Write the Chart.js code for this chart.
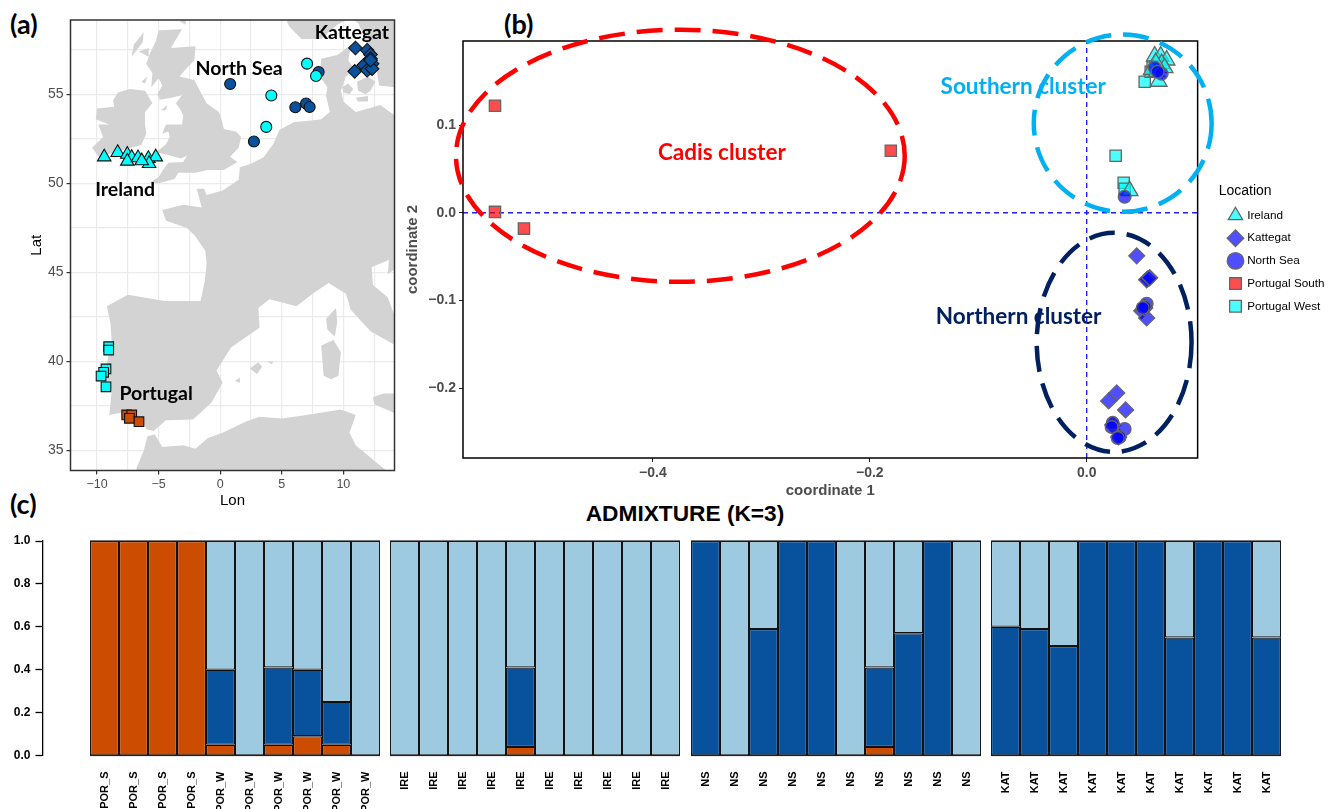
<!DOCTYPE html>
<html>
<head>
<meta charset="utf-8">
<title>Location map, MDS and ADMIXTURE</title>
<script src="https://cdn.jsdelivr.net/npm/chart.js@4"></script>
<style>
	html, body { margin: 0; padding: 0; background: #fff; width: 1340px; height: 809px; overflow: hidden; }
	canvas { position: absolute; display: block; }
	.tag { position: absolute; font: bold 27px Lato, sans-serif; color: #000; line-height: 28px; }
	#admix-title { position: absolute; left: 485px; width: 400px; top: 500px; text-align: center; font: bold 22.7px "Liberation Sans", sans-serif; color: #000; line-height: 26px; }
</style>
</head>
<body>
<div class="tag" style="left:10px;top:10px">(a)</div>
<div class="tag" style="left:504px;top:10px">(b)</div>
<div class="tag" style="left:10px;top:490px">(c)</div>
<div id="admix-title">ADMIXTURE (K=3)</div>
<canvas id="map" width="410" height="510" style="left:0;top:0"></canvas>
<canvas id="mds" width="940" height="500" style="left:400px;top:0"></canvas>
<canvas id="axis-c" width="50" height="809" style="left:0;top:0"></canvas>
<canvas id="bars-0" width="290" height="809" style="left:90px;top:0"></canvas>
<canvas id="bars-1" width="290" height="809" style="left:390px;top:0"></canvas>
<canvas id="bars-2" width="290" height="809" style="left:691px;top:0"></canvas>
<canvas id="bars-3" width="290" height="809" style="left:991px;top:0"></canvas>
<script>
// ---- panel (a) sampling sites, [lon, lat]
var mapIreland = [[-9.41,51.48],[-8.32,51.73],[-7.54,51.63],[-7.18,51.45],[-7.54,51.24],[-6.67,51.43],[-5.83,51.39],[-5.23,51.48],[-5.77,51.11],[-6.37,51.26]];
var mapKattegat = [[10.98,57.6],[10.92,56.29],[11.93,57.47],[12.2,57.23],[12.2,57.0],[12.33,56.72],[11.65,56.63],[11.93,56.35],[12.33,56.44],[12.2,56.91]];
var mapNorthSeaDark = [[0.81,55.58],[7.99,56.25],[6.1,54.27],[6.97,54.48],[7.26,54.29],[2.74,52.35]];
var mapNorthSeaLight = [[7.05,56.72],[7.78,56.03],[4.15,54.93],[3.74,53.17]];
var mapPortugalWest = [[-9.05,40.83],[-9.05,40.64],[-9.27,39.58],[-9.46,39.39],[-9.67,39.18],[-9.27,38.58]];
var mapPortugalSouth = [[-7.59,37.0],[-7.18,37.0],[-7.37,36.81],[-6.59,36.62]];

// coastlines, [lon, lat]
var britain = [[-5.7,50.05],[-5.0,50.35],[-4.5,50.9],[-4.2,51.15],[-3.0,51.2],[-2.7,51.55],[-3.2,51.4],[-4.3,51.6],[-5.2,51.75],[-4.4,52.2],[-4.1,52.6],[-4.2,52.9],[-4.7,52.8],[-4.4,53.3],[-3.1,53.3],[-3.0,53.8],[-3.2,54.1],[-3.6,54.5],[-3.1,54.95],[-4.0,54.8],[-4.9,54.7],[-5.1,55.0],[-4.7,55.5],[-5.0,55.9],[-5.6,55.4],[-5.5,56.2],[-6.0,56.7],[-5.7,57.3],[-5.2,58.0],[-5.0,58.6],[-3.1,58.65],[-4.0,57.6],[-2.0,57.7],[-2.1,56.9],[-2.8,56.4],[-3.3,56.0],[-2.1,55.8],[-1.5,55.0],[-1.1,54.5],[-0.1,54.0],[0.1,53.6],[0.3,53.05],[1.3,52.9],[1.7,52.6],[1.5,52.0],[0.8,51.5],[1.4,51.2],[0.3,50.75],[-1.0,50.75],[-2.0,50.6],[-3.4,50.6],[-3.7,50.25],[-5.0,50.0]];
var irelandLand = [[-6.4,52.15],[-8.3,51.8],[-9.8,51.45],[-10.4,52.0],[-9.5,52.6],[-9.9,53.3],[-9.0,53.3],[-10.1,53.6],[-10.0,54.2],[-8.6,54.3],[-8.7,54.65],[-8.3,55.1],[-7.3,55.3],[-6.1,55.2],[-5.5,54.5],[-6.1,54.0],[-6.1,53.3],[-6.0,52.8]];
var continent = [[10.6,57.75],[9.5,57.2],[8.2,57.0],[8.1,56.0],[8.7,55.4],[8.6,54.9],[8.9,54.0],[8.2,53.6],[7.0,53.5],[6.0,53.45],[4.8,53.0],[4.3,52.2],[3.5,51.45],[2.5,51.1],[1.6,50.9],[1.5,50.2],[0.2,49.6],[-1.1,49.35],[-1.3,49.7],[-1.9,49.7],[-1.5,48.65],[-3.0,48.8],[-4.7,48.5],[-4.4,47.9],[-2.7,47.5],[-2.1,47.1],[-1.2,46.2],[-1.1,45.5],[-1.25,44.5],[-1.6,43.4],[-3.0,43.4],[-4.5,43.4],[-7.5,43.75],[-9.2,43.1],[-8.9,42.1],[-8.8,41.0],[-9.4,39.4],[-9.5,38.7],[-8.8,38.4],[-9.0,37.0],[-7.4,37.2],[-6.4,36.8],[-6.0,36.2],[-5.4,36.1],[-4.4,36.7],[-2.2,36.75],[-0.7,37.7],[0.2,38.8],[-0.3,39.5],[0.9,40.8],[3.2,41.9],[3.1,43.0],[4.0,43.5],[6.2,43.1],[7.5,43.8],[8.8,44.4],[10.2,43.8],[10.6,42.9],[12.2,41.7],[14,41],[15,40.5],[15,42],[14.2,42.5],[13.6,43.6],[12.4,44.3],[12.3,45.3],[13.7,45.7],[13.6,44.9],[14.2,45.2],[15,44.9],[15,54],[14,53.9],[13,54.4],[12,54.2],[11,54],[10,54.6],[9.8,55.2],[10.2,56],[10.9,56.4],[10.4,56.9]];
var scandinavia = [[5.0,60],[5.3,59.3],[5.6,58.8],[6.6,58.1],[8.2,58.1],[9.5,58.9],[10.6,59.3],[11.2,59],[11.8,58],[12,57.4],[12.7,56.4],[12.9,55.5],[14.2,55.4],[15,56.1],[15,60]];
var africa = [[-6.8,33],[-6.8,34],[-6.2,35],[-5.9,35.8],[-5.3,35.9],[-4.7,35.2],[-3,35.3],[-2,35.1],[-1,35.7],[0.2,36],[2,36.6],[3.2,36.9],[5,36.8],[7,37],[9.8,37.3],[11,37],[10.5,36],[11,35.3],[15,33]];
var sicily = [[12.4,38],[13.3,38.2],[15,38.2],[15,36.7],[14.5,37],[12.5,37.6]];
var sardinia = [[8.2,40.9],[9.2,41.2],[9.8,40.5],[9.6,39.2],[9.0,39.0],[8.4,39.2]];
var corsica = [[9.4,43],[9.5,42.2],[9.3,41.4],[8.7,41.8],[8.6,42.4]];
var mallorca = [[2.4,39.6],[3.1,39.95],[3.4,39.7],[3,39.3]];
var menorca = [[3.8,40],[4.3,40],[4.2,39.85]];
var ibiza = [[1.2,38.9],[1.6,39.1],[1.6,38.8]];
var zealand = [[11.1,55.7],[12,56],[12.6,55.7],[12.2,55.2],[11.8,55],[11.2,55.2]];
var funen = [[9.9,55.4],[10.4,55.6],[10.8,55.3],[10.5,55],[10,55.1]];
var lolland = [[11,54.8],[12,54.9],[12,54.6],[11.2,54.6]];
var lewis = [[-7,57.8],[-6.2,58.5],[-6.3,57.9],[-7.2,57.1]];
var skye = [[-6.6,57.4],[-5.8,57.6],[-5.8,57.1]];
var islay = [[-6.4,55.7],[-5.9,56],[-6.1,55.6]];
var man = [[-4.8,54.1],[-4.3,54.4],[-4.4,54.1]];
var orkney = [[-3.3,59.1],[-2.8,59.2],[-2.8,58.9]];
var landParts = [britain, irelandLand, continent, scandinavia, africa, sicily, sardinia, corsica, mallorca, menorca, ibiza, zealand, funen, lolland, lewis, skye, islay, man, orkney];

var mapNotes = ['Kattegat', 'North Sea', 'Ireland', 'Portugal'];
var mapNotesLon = [10.69, 1.54, -7.72, -5.2];
var mapNotesLat = [58.48, 56.46, 49.62, 38.17];

// ---- panel (b) coordinates, [coord1, coord2]
var mdsLegend = ['Ireland', 'Kattegat', 'North Sea', 'Portugal South', 'Portugal West'];
var mdsIreland = [[0.0627,0.1785],[0.0682,0.1785],[0.0737,0.1739],[0.0691,0.1699],[0.0664,0.1497],[0.0396,0.0251],[0.0719,0.1653],[0.0636,0.1711],[0.0599,0.1631],[0.0645,0.1608]];
var mdsKattegat = [[0.0461,-0.0491],[0.0562,-0.0753],[0.0553,-0.0764],[0.0581,-0.0741],[0.0507,-0.1118],[0.0553,-0.1198],[0.0535,-0.1084],[0.0277,-0.2053],[0.0203,-0.2144],[0.0359,-0.2247],[0.0240,-0.2418],[0.0295,-0.2555]];
var mdsNorthSea = [[0.0627,0.1654],[0.0691,0.1585],[0.0654,0.1608],[0.0350,0.0182],[0.0240,-0.2395],[0.0230,-0.2441],[0.0350,-0.2464],[0.0304,-0.2555],[0.0286,-0.2566],[0.0553,-0.1038],[0.0535,-0.1072],[0.0516,-0.1084]];
var mdsPortugalSouth = [[-0.5456,0.122],[-0.5456,0.001],[-0.5189,-0.018],[-0.1806,0.0707]];
var mdsPortugalWest = [[0.0267,0.0650],[0.0341,0.0342],[0.0350,0.0274],[0.0535,0.1494],[0.0590,0.1608],[0.0608,0.1654]];
var mdsHline = [[-0.5751,0],[0.1023,0]];
var mdsVline = [[0,-0.2795],[0,0.1958]];

var clusterNames = ['Cadis cluster', 'Southern cluster', 'Northern cluster'];
var clusterNoteX = [-0.3364, -0.0585, -0.0627];
var clusterNoteY = [0.0684, 0.1437, -0.1186];
var clusterColors = ['#ff0000', '#00b0f0', '#002060'];
var ellipseX = [-0.3747, 0.0332, 0.0253];
var ellipseY = [0.065, 0.1021, -0.1477];
var ellipseRx = [0.2069, 0.082, 0.0714];
var ellipseRy = [0.1437, 0.101, 0.1249];

// ---- panel (c)
var groupLabels = ['POR', 'IRE', 'NS', 'KAT'];
var porLabels = ['POR_S','POR_S','POR_S','POR_S','POR_W','POR_W','POR_W','POR_W','POR_W','POR_W'];
var ireLabels = ['IRE','IRE','IRE','IRE','IRE','IRE','IRE','IRE','IRE','IRE'];
var nsLabels = ['NS','NS','NS','NS','NS','NS','NS','NS','NS','NS'];
var katLabels = ['KAT','KAT','KAT','KAT','KAT','KAT','KAT','KAT','KAT','KAT'];
var porOrange = [1,1,1,1,0.05,0,0.05,0.09,0.05,0];
var porBlue = [0,0,0,0,0.35,0,0.36,0.31,0.2,0];
var porLight = [0,0,0,0,0.6,1,0.59,0.6,0.75,1];
var ireOrange = [0,0,0,0,0.04,0,0,0,0,0];
var ireBlue = [0,0,0,0,0.37,0,0,0,0,0];
var ireLight = [1,1,1,1,0.59,1,1,1,1,1];
var nsOrange = [0,0,0,0,0,0,0.04,0,0,0];
var nsBlue = [1,0,0.59,1,1,0,0.37,0.57,1,0];
var nsLight = [0,1,0.41,0,0,1,0.59,0.43,0,1];
var katOrange = [0,0,0,0,0,0,0,0,0,0];
var katBlue = [0.6,0.59,0.51,1,1,1,0.55,1,1,0.55];
var katLight = [0.4,0.41,0.49,0,0,0,0.45,0,0,0.45];

Chart.defaults.font.family = '"Liberation Sans", sans-serif';
Chart.defaults.animation = false;

function xy(list) {
	return list.map(p => ({x: p[0], y: p[1]}));
}
function minus(v, digits) {
	return v.toFixed(digits).replace('-', '\u2212');
}
function markers(label, list, style, radius, fill, edge, width, order) {
	return {label: label, data: xy(list), pointStyle: style, pointRadius: radius, backgroundColor: fill,
		pointBackgroundColor: fill, pointBorderColor: edge, borderColor: edge, pointBorderWidth: width, borderWidth: width, showLine: false, order: order};
}

var frame = {
	id: 'frame',
	afterDatasetsDraw(chart, args, opts) {
		var a = chart.chartArea, ctx = chart.ctx;
		ctx.save();
		ctx.strokeStyle = opts.color;
		ctx.lineWidth = opts.width;
		ctx.strokeRect(a.left, a.top, a.right - a.left, a.bottom - a.top);
		ctx.restore();
	}
};
// free text placed in data units
var notes = {
	id: 'notes',
	afterDraw(chart, args, opts) {
		if (!opts.texts) return;
		var ctx = chart.ctx;
		ctx.save();
		ctx.font = opts.font;
		ctx.textAlign = 'center';
		ctx.textBaseline = 'middle';
		opts.texts.forEach((t, i) => {
			ctx.fillStyle = opts.colors ? opts.colors[i] : '#000';
			ctx.fillText(t, chart.scales.x.getPixelForValue(opts.xs[i]), chart.scales.y.getPixelForValue(opts.ys[i]));
		});
		ctx.restore();
	}
};
var ellipses = {
	id: 'ellipses',
	afterDraw(chart) {
		var ctx = chart.ctx, sx = chart.scales.x, sy = chart.scales.y;
		ctx.save();
		ellipseX.forEach((cx, i) => {
			var px = sx.getPixelForValue(cx), py = sy.getPixelForValue(ellipseY[i]);
			ctx.beginPath();
			ctx.ellipse(px, py, sx.getPixelForValue(cx + ellipseRx[i]) - px, py - sy.getPixelForValue(ellipseY[i] + ellipseRy[i]), 0, 0, Math.PI * 2);
			ctx.strokeStyle = clusterColors[i];
			ctx.lineWidth = 4.5;
			ctx.setLineDash([26, 12]);
			ctx.stroke();
		});
		ctx.restore();
	}
};

// ---- (a)
var mapData = [
	markers('Ireland', mapIreland, 'triangle', 7.8, '#00ffff', '#111', 1.1, 2),
	markers('Kattegat', mapKattegat, 'rectRot', 6.8, '#08519c', '#111', 1.1, 2),
	markers('North Sea', mapNorthSeaLight, 'circle', 5.5, '#00ffff', '#111', 1.1, 1),
	markers('North Sea', mapNorthSeaDark, 'circle', 5.5, '#08519c', '#111', 1.1, 2),
	markers('Portugal South', mapPortugalSouth, 'rect', 6.8, '#cc4c02', '#111', 1.1, 2),
	markers('Portugal West', mapPortugalWest, 'rect', 6.8, '#00ffff', '#111', 1.1, 2)
];
landParts.forEach(part => {
	mapData.push({data: xy(part), showLine: true, fill: 'shape', backgroundColor: '#d3d3d3', borderWidth: 0, pointRadius: 0, order: 10});
});

new Chart(document.querySelector('#map'), {
	type: 'scatter',
	data: {datasets: mapData},
	plugins: [frame, notes],
	options: {
		responsive: false,
		layout: {padding: {top: 20, right: 15.5}},
		plugins: {
			legend: {display: false},
			tooltip: {enabled: false},
			frame: {color: '#333', width: 1.5},
			notes: {texts: mapNotes, xs: mapNotesLon, ys: mapNotesLat, font: 'bold 19.5px Lato, sans-serif'}
		},
		scales: {
			x: {
				min: -12.15, max: 14.15,
				afterFit: s => { s.height = 39.5; },
				grid: {color: '#ebebeb', lineWidth: 1.2, tickLength: 4, tickColor: c => c.tick && c.tick.value % 5 == 0 ? '#333' : 'transparent'},
				border: {display: false},
				ticks: {stepSize: 2.5, includeBounds: false, autoSkip: false, maxRotation: 0, color: '#4d4d4d', padding: 3, font: {size: 12.5},
					callback: v => v % 5 == 0 ? minus(v, 0) : ''},
				title: {display: true, text: 'Lon', color: '#000', font: {size: 15}, padding: 0}
			},
			y: {
				min: 33.88, max: 59.17,
				afterFit: s => { s.width = 70.5; },
				grid: {color: '#ebebeb', lineWidth: 1.2, tickLength: 4, tickColor: c => c.tick && c.tick.value % 5 == 0 ? '#333' : 'transparent'},
				border: {display: false},
				ticks: {stepSize: 2.5, includeBounds: false, autoSkip: false, color: '#4d4d4d', padding: 3, font: {size: 14},
					callback: v => v % 5 == 0 ? v : ''},
				title: {display: true, text: 'Lat', color: '#000', font: {size: 15}, padding: {top: 28, bottom: 0}}
			}
		}
	}
});

// ---- (b)
var mdsData = [
	markers(mdsLegend[0], mdsIreland, 'triangle', 9.6, 'rgba(0,255,255,0.7)', '#666', 1.3, 3),
	markers(mdsLegend[1], mdsKattegat, 'rectRot', 8, 'rgba(0,0,255,0.69)', '#666', 1.3, 2),
	markers(mdsLegend[2], mdsNorthSea, 'circle', 6.4, 'rgba(0,0,255,0.69)', '#666', 1.3, 1),
	markers(mdsLegend[3], mdsPortugalSouth, 'rect', 8, 'rgba(255,0,0,0.7)', '#666', 1.3, 4),
	markers(mdsLegend[4], mdsPortugalWest, 'rect', 8, 'rgba(0,255,255,0.7)', '#666', 1.3, 4),
	{label: 'h', data: xy(mdsHline), showLine: true, borderColor: '#2020ff', borderWidth: 1.4, borderDash: [5, 4], pointRadius: 0, order: 10},
	{label: 'v', data: xy(mdsVline), showLine: true, borderColor: '#2020ff', borderWidth: 1.4, borderDash: [5, 4], pointRadius: 0, order: 10}
];

new Chart(document.querySelector('#mds'), {
	type: 'scatter',
	data: {datasets: mdsData},
	plugins: [frame, notes, ellipses],
	options: {
		responsive: false,
		layout: {padding: {top: 41, right: 5.5}},
		plugins: {
			tooltip: {enabled: false},
			frame: {color: '#000', width: 1.5},
			notes: {texts: clusterNames, xs: clusterNoteX, ys: clusterNoteY, colors: clusterColors, font: 'bold 22.5px Lato, sans-serif'},
			legend: {
				position: 'right',
				fullSize: false,
				title: {display: true, text: 'Location', position: 'start', color: '#000', font: {size: 14}, padding: {top: 8, bottom: -2}},
				labels: {
					usePointStyle: true, color: '#000', font: {size: 11.7}, padding: 11,
					filter: item => mdsLegend.includes(item.text),
					sort: (a, b) => a.datasetIndex - b.datasetIndex
				}
			}
		},
		scales: {
			x: {
				min: -0.5751, max: 0.1023,
				afterFit: s => { s.height = 42; },
				grid: {drawOnChartArea: false, tickLength: 4, tickColor: '#222'},
				border: {display: false},
				ticks: {stepSize: 0.2, includeBounds: false, maxRotation: 0, color: '#4d4d4d', padding: 3, font: {size: 14, weight: 'bold'},
					callback: v => minus(v, 1)},
				title: {display: true, text: 'coordinate 1', color: '#4d4d4d', font: {size: 15, weight: 'bold'}, padding: 0}
			},
			y: {
				min: -0.2795, max: 0.1958,
				afterFit: s => { s.width = 63; },
				grid: {drawOnChartArea: false, tickLength: 4, tickColor: '#222'},
				border: {display: false},
				ticks: {stepSize: 0.1, includeBounds: false, color: '#4d4d4d', padding: 3, font: {size: 14, weight: 'bold'},
					callback: v => minus(v, 1)},
				title: {display: true, text: 'coordinate 2', color: '#4d4d4d', font: {size: 15, weight: 'bold'}, padding: {top: 4, bottom: 0}}
			},
			// empty axis, only keeps the legend away from the frame
			gap: {
				type: 'linear', position: 'right',
				afterFit: s => { s.width = 21; },
				grid: {display: false},
				border: {display: false},
				ticks: {display: false}
			}
		}
	}
});

// ---- (c) y axis stands alone, away from the bars
new Chart(document.querySelector('#axis-c'), {
	type: 'bar',
	data: {labels: [''], datasets: [{data: [0], backgroundColor: 'transparent'}]},
	options: {
		responsive: false,
		layout: {padding: {top: 541}},
		plugins: {legend: {display: false}, tooltip: {enabled: false}},
		scales: {
			x: {display: false, afterFit: s => { s.height = 53.5; }},
			y: {
				min: 0, max: 1,
				afterFit: s => { s.width = 42.5; },
				grid: {drawOnChartArea: false, tickLength: 7, tickColor: '#000', tickWidth: 1.3},
				border: {display: true, color: '#000', width: 1.3},
				ticks: {stepSize: 0.2, color: '#000', padding: 5, font: {size: 12, weight: 'bold'}, callback: v => v.toFixed(1)}
			}
		}
	}
});

var groupData = {
	POR: [porLabels, porOrange, porBlue, porLight],
	IRE: [ireLabels, ireOrange, ireBlue, ireLight],
	NS: [nsLabels, nsOrange, nsBlue, nsLight],
	KAT: [katLabels, katOrange, katBlue, katLight]
};
groupLabels.forEach((name, i) => {
	var g = groupData[name];
	new Chart(document.querySelector('#bars-' + i), {
		type: 'bar',
		data: {
			labels: g[0],
			datasets: [
				{data: g[1], backgroundColor: '#cc4c02'},
				{data: g[2], backgroundColor: '#08519c'},
				{data: g[3], backgroundColor: '#9ecae1'}
			]
		},
		plugins: [frame],
		options: {
			responsive: false,
			layout: {autoPadding: false, padding: {top: 541, left: 0, right: 0}},
			datasets: {bar: {barPercentage: 1, categoryPercentage: 1, borderColor: '#111', borderWidth: 1.2, borderSkipped: false, inflateAmount: 0}},
			plugins: {legend: {display: false}, tooltip: {enabled: false}, frame: {color: '#222', width: 1.2}},
			scales: {
				x: {
					stacked: true,
					afterFit: s => { s.height = 53.5; s.paddingLeft = 0; s.paddingRight = 0; },
					grid: {display: false, drawTicks: false},
					border: {display: false},
					ticks: {autoSkip: false, minRotation: 90, maxRotation: 90, color: '#000', padding: 16, font: {size: 11, weight: 'bold'}}
				},
				y: {stacked: true, display: false, min: 0, max: 1}
			}
		}
	});
});
</script>
</body>
</html>
